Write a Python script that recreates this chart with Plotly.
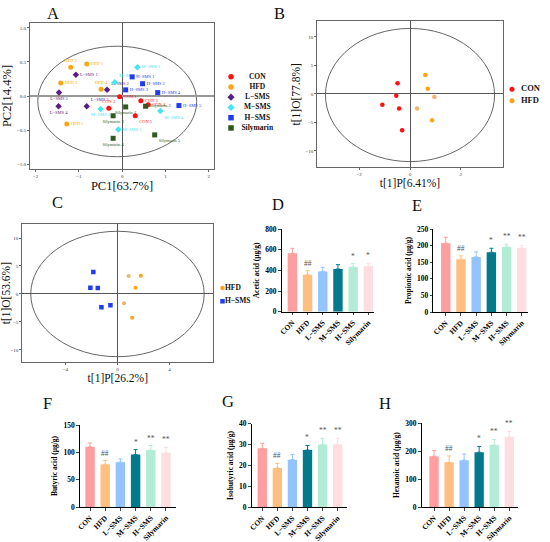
import plotly.graph_objects as go

W, H = 550, 542
SERIF = "Liberation Serif"

groups = ["CON", "HFD", "L−SMS", "M−SMS", "H−SMS", "Silymarin"]

# ---- A: PCA scores (5 samples / group) ----
con_pc1 = [-0.06, -0.31, 0.43, 0.60, 0.30]
con_pc2 = [-0.01, -0.18, -0.07, -0.13, -0.29]
hfd_pc1 = [-0.82, -1.19, -1.42, -0.49, -1.28]
hfd_pc2 = [0.47, 0.42, 0.19, 0.10, -0.41]
lsms_pc1 = [-1.07, -0.35, -0.82, -1.47, -1.46]
lsms_pc2 = [0.31, 0.09, -0.15, -0.15, 0.05]
msms_pc1 = [0.35, -0.17, -0.50, 0.88, -0.09]
msms_pc2 = [0.42, 0.20, -0.19, -0.22, -0.49]
hsms_pc1 = [0.23, 0.47, 0.08, 0.82, 1.31]
hsms_pc2 = [0.28, 0.18, 0.09, 0.05, -0.14]
sily_pc1 = [0.08, 0.54, -0.21, -0.21, 0.75]
sily_pc2 = [-0.16, -0.15, -0.29, -0.62, -0.57]

# ---- B: OPLS-DA CON vs HFD ----
b_con_p = [-0.49, -0.54, -1.09, -0.43, -0.31]
b_con_o = [1.87, -0.35, -1.9, -2.55, -6.4]
b_hfd_p = [0.60, 0.70, 0.96, 0.28, 0.87]
b_hfd_o = [3.3, 0.9, -0.55, -2.55, -4.65]

# ---- C: OPLS-DA HFD vs H-SMS ----
c_hfd_p = [0.85, 1.79, 1.38, 0.51, 1.13]
c_hfd_o = [3.21, 3.27, 1.13, -1.67, -4.23]
c_hsms_p = [-1.85, -2.08, -1.51, -1.23, -0.54]
c_hsms_o = [3.93, 1.13, 1.07, -2.38, -2.02]

# ---- D-H: SCFA contents (mean, SD) ----
acetic = [565, 358, 390, 413, 432, 439]
acetic_err = [48, 39, 39, 42, 33, 29]
acetic_sig = ["", "##", "", "", "*", "*"]
propionic = [207, 159, 166, 180, 196, 193]
propionic_err = [18, 10, 15, 12, 8, 8]
propionic_sig = ["", "##", "", "*", "**", "**"]
butyric = [110, 78, 82, 96, 104, 99]
butyric_err = [7, 7, 6, 9, 8.5, 10]
butyric_sig = ["", "##", "", "*", "**", "**"]
isobutyric = [28.2, 18.8, 22.8, 27.4, 30.1, 30.1]
isobutyric_err = [2.4, 2.2, 2.5, 2.2, 2.9, 2.9]
isobutyric_sig = ["", "##", "", "*", "**", "**"]
hexanoic = [182, 160, 168, 196, 222, 251]
hexanoic_err = [20, 23, 22, 21, 20, 20]
hexanoic_sig = ["", "##", "", "*", "**", "**"]

# styles
pt_colors = ["#ff1010", "#ffa515", "#5a1f87", "#45e6f0", "#1f3cf2", "#2e5a1c"]
pt_symbols = ["circle", "circle", "diamond", "diamond", "square", "square"]
bar_colors = ["#ff9e9e", "#ffbf80", "#94c4ff", "#037a8c", "#b3ecd6", "#ffdde0"]
label_pos = [
    ["middle right", "top center", "middle right", "middle right", "bottom right"],
    ["middle right", "top center", "middle right", "top center", "middle right"],
    ["middle right", "top right", "top right", "bottom center", "bottom center"],
    ["middle right", "top right", "bottom center", "bottom right", "middle right"],
    ["middle right", "middle right", "middle right", "middle right", "middle right"],
    ["bottom center", "middle right", "bottom center", "bottom center", "bottom right"],
]


def dom_x(a, b):
    return [a / W, b / W]


def dom_y(top, bottom):
    return [1 - bottom / H, 1 - top / H]


def ax(n, kind):
    return kind + ("" if n == 1 else str(n))


fig = go.Figure()
layout = {}


def score_axes(n, xd, yd, xr, yr, xdt, ydt, xt, yt, tsize, yfmt=None, hz=("#555", 1)):
    common = dict(showgrid=False, zeroline=True, zerolinecolor="#555", zerolinewidth=1,
                  showline=True, mirror=True, linecolor="#666", linewidth=1, automargin=False,
                  ticks="outside", ticklen=2, tickcolor="#666",
                  tickfont=dict(family=SERIF, size=5, color="#333"))
    layout[ax(n, "xaxis")] = dict(common, domain=xd, range=xr, dtick=xdt, anchor=ax(n, "y"),
                                  title=dict(text=xt, font=dict(family=SERIF, size=tsize, color="#111"),
                                             standoff=1))
    layout[ax(n, "yaxis")] = dict(common, domain=yd, range=yr, dtick=ydt, anchor=ax(n, "x"),
                                  tickformat=yfmt, zerolinecolor=hz[0], zerolinewidth=hz[1],
                                  title=dict(text=yt, font=dict(family=SERIF, size=tsize, color="#111"),
                                             standoff=2))


def ellipse(n, cx, cy, rx, ry):
    fig.add_shape(type="circle", xref=ax(n, "x"), yref=ax(n, "y"),
                  x0=cx - rx, x1=cx + rx, y0=cy - ry, y1=cy + ry,
                  line=dict(color="#666", width=1), layer="below")


# ---------- Panel A ----------
pc1 = [con_pc1, hfd_pc1, lsms_pc1, msms_pc1, hsms_pc1, sily_pc1]
pc2 = [con_pc2, hfd_pc2, lsms_pc2, msms_pc2, hsms_pc2, sily_pc2]
for i, g in enumerate(groups):
    fig.add_trace(go.Scatter(
        x=pc1[i], y=pc2[i], mode="markers+text",
        text=[f"{g} {k + 1}" for k in range(len(pc1[i]))],
        textposition=label_pos[i],
        textfont=dict(family=SERIF, size=4.5, color=pt_colors[i]),
        marker=dict(color=pt_colors[i], symbol=pt_symbols[i], size=5),
        xaxis="x", yaxis="y", showlegend=False))
score_axes(1, dom_x(30, 214), dom_y(23, 169), [-2.13, 2.12], [-1.07, 1.07], 1, 0.5,
           "PC1[63.7%]", "PC2[14.4%]", 12.5, ".1f", hz=("#999", 1.6))
ellipse(1, -0.115, -0.08, 1.835, 0.81)

# ---------- Panel B ----------
b_hfd_cols = ["#ffa515", "#ffa515", "#f5b36a", "#f5b36a", "#ffa515"]
fig.add_trace(go.Scatter(x=b_con_p, y=b_con_o, mode="markers", xaxis="x2", yaxis="y2",
                         marker=dict(color="#ff1010", size=4.5), showlegend=False))
fig.add_trace(go.Scatter(x=b_hfd_p, y=b_hfd_o, mode="markers", xaxis="x2", yaxis="y2",
                         marker=dict(color=b_hfd_cols, size=4.5), showlegend=False))
score_axes(2, dom_x(317.3, 502.7), dom_y(21.3, 167.3), [-3.65, 3.65], [-12.9, 12.75], 2, 5,
           "t[1]P[6.41%]", "t[1]O[77.8%]", 11.5)
ellipse(2, 0, -0.2, 3.33, 11.7)

# ---------- Panel C ----------
c_hfd_cols = ["#f5b36a", "#ffa515", "#ffa515", "#f5b36a", "#ffa515"]
fig.add_trace(go.Scatter(x=c_hfd_p, y=c_hfd_o, mode="markers", xaxis="x3", yaxis="y3",
                         marker=dict(color=c_hfd_cols, size=4), showlegend=False))
fig.add_trace(go.Scatter(x=c_hsms_p, y=c_hsms_o, mode="markers", xaxis="x3", yaxis="y3",
                         marker=dict(color="#1f3cf2", size=4.5, symbol="square"), showlegend=False))
score_axes(3, dom_x(22.3, 213.3), dom_y(224, 362.3), [-7.3, 7.35], [-12.2, 12.5], 4, 5,
           "t[1]P[26.2%]", "t[1]O[53.6%]", 11.5)
ellipse(3, 0, 0, 6.65, 11.2)

# ---------- Bar panels D-H ----------
bar_panels = [
    (4, acetic, acetic_err, acetic_sig, "Acetic acid (μg/g)", 800, 200,
     (281.7, 374.3), (229, 311.7), [-0.7, 5.39]),
    (5, propionic, propionic_err, propionic_sig, "Propionic acid (μg/g)", 250, 50,
     (433.3, 528), (229, 312), [-0.82, 5.41]),
    (6, butyric, butyric_err, butyric_sig, "Butyric acid (μg/g)", 150, 50,
     (80, 176), (425, 507), [-0.66, 5.66]),
    (7, isobutyric, isobutyric_err, isobutyric_sig, "Isobutyric acid (μg/g)", 40, 10,
     (251.7, 346.7), (423.7, 507.3), [-0.7, 5.6]),
    (8, hexanoic, hexanoic_err, hexanoic_sig, "Hexanoic acid (μg/g)", 300, 100,
     (421.7, 518.3), (423.3, 507), [-0.82, 5.6]),
]
annotations = []
for n, vals, errs, sigs, ytitle, ytop, ydt, xpx, ypx, xr in bar_panels:
    for i, g in enumerate(groups):
        fig.add_trace(go.Bar(
            x=[g], y=[vals[i]], width=0.62, xaxis=f"x{n}", yaxis=f"y{n}",
            marker=dict(color=bar_colors[i], line=dict(width=0)),
            error_y=dict(type="data", array=[errs[i]], arrayminus=[0], symmetric=False,
                         color=bar_colors[i], thickness=1, width=2),
            showlegend=False))
        if sigs[i]:
            annotations.append(dict(x=g, y=vals[i] + errs[i], xref=f"x{n}", yref=f"y{n}",
                                    text=sigs[i], showarrow=False, yanchor="bottom", yshift=1,
                                    font=dict(family=SERIF, size=7.5, color="#555")))
    layout[f"xaxis{n}"] = dict(domain=dom_x(*xpx), anchor=f"y{n}", type="category",
                               categoryorder="array", categoryarray=groups, range=xr,
                               showgrid=False, zeroline=False, showline=True, automargin=False,
                               linecolor="black", linewidth=1.3, ticks="outside", ticklen=2.5,
                               tickwidth=1, tickangle=-45,
                               tickfont=dict(family=SERIF, size=7.5, color="black", weight="bold"))
    layout[f"yaxis{n}"] = dict(domain=dom_y(*ypx), anchor=f"x{n}", range=[0, ytop], dtick=ydt,
                               showgrid=False, zeroline=False, showline=True, automargin=False,
                               linecolor="black", linewidth=1.3, ticks="outside", ticklen=2.5,
                               tickwidth=1,
                               tickfont=dict(family=SERIF, size=7.5, color="black", weight="bold"),
                               title=dict(text=ytitle, standoff=4,
                                          font=dict(family=SERIF, size=7.5, color="black",
                                                    weight="bold")))

# ---------- hand-made legends (pixel-scaled helper axes) ----------
def legend_axes(n, xpx, ypx):
    hide = dict(visible=False, fixedrange=True, automargin=False)
    layout[f"xaxis{n}"] = dict(hide, domain=dom_x(*xpx), range=list(xpx), anchor=f"y{n}")
    layout[f"yaxis{n}"] = dict(hide, domain=dom_y(*ypx), range=[ypx[1], ypx[0]], anchor=f"x{n}")


def legend_items(n, names, cols, syms, mx, y0, dy, tx, tpos, size, msize):
    ys = [y0 + dy * k for k in range(len(names))]
    fig.add_trace(go.Scatter(x=[mx] * len(names), y=ys, mode="markers", xaxis=f"x{n}", yaxis=f"y{n}",
                             marker=dict(color=cols, symbol=syms, size=msize), cliponaxis=False,
                             showlegend=False, hoverinfo="skip"))
    fig.add_trace(go.Scatter(x=[tx] * len(names), y=ys, mode="text", text=names, textposition=tpos,
                             xaxis=f"x{n}", yaxis=f"y{n}", showlegend=False, hoverinfo="skip",
                             cliponaxis=False,
                             textfont=dict(family=SERIF, size=size, color="#111", weight="bold")))


legend_axes(9, (220, 280), (68, 138))
legend_items(9, groups, pt_colors, pt_symbols, 231, 76.7, 10.25, 257.3, "middle center", 7.5, 5.5)
legend_axes(10, (504, 550), (80, 110))
legend_items(10, groups[:2], pt_colors[:2], ["circle", "circle"], 512, 89.3, 11.4, 521, "middle right", 8.5, 5)
legend_axes(11, (216, 262), (280, 310))
legend_items(11, ["HFD", "H−SMS"], ["#ffa515", "#1f3cf2"], ["circle", "square"], 222.5, 288, 13.3, 225,
             "middle right", 7.5, 4.5)

# panel letters
for letter, lx, ly in [("A", 52.5, 14), ("B", 279, 14), ("C", 57, 203), ("D", 278, 204),
                       ("E", 417, 205), ("F", 47, 403), ("G", 228, 402), ("H", 385, 403)]:
    annotations.append(dict(text=letter, x=lx / W, y=1 - ly / H, xref="paper", yref="paper",
                            showarrow=False, xanchor="center", yanchor="middle",
                            font=dict(family=SERIF, size=16.5, color="#111")))

fig.update_layout(**layout)
fig.update_layout(template="none", width=W, height=H, margin=dict(l=0, r=0, t=0, b=0),
                  paper_bgcolor="white", plot_bgcolor="white", barmode="overlay",
                  showlegend=False, annotations=annotations)
# page body has an 8px default margin; drop it so the figure fills the window
fig.write_html("out.html", config={"displayModeBar": False},
               post_script="document.body.style.margin='0';document.body.style.overflow='hidden';")
